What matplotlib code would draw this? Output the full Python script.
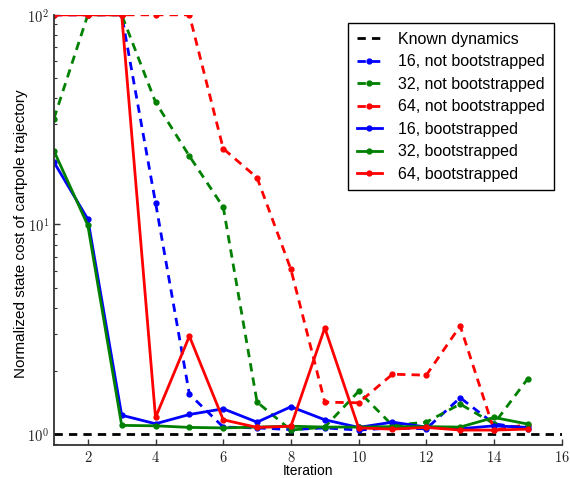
import math
import matplotlib
matplotlib.use("Agg")
import matplotlib.pyplot as plt
from matplotlib.ticker import FixedLocator, FuncFormatter, LogLocator, NullFormatter

plt.rcParams['font.family'] = ['Liberation Sans', 'DejaVu Sans']
plt.rcParams['mathtext.fontset'] = 'cm'

iterations = list(range(1, 16))
known = 1.0

nb16 = [100, 100, 100, 12.7, 1.55, 1.08, 1.07, 1.05, 1.07, 1.045, 1.07, 1.06, 1.49, 1.12, 1.06]
nb32 = [32.0, 100, 100, 38.3, 21.2, 12.1, 1.42, 1.045, 1.08, 1.60, 1.10, 1.14, 1.39, 1.12, 1.84]
nb64 = [100, 100, 100, 100, 100, 23.0, 16.7, 6.1, 1.42, 1.41, 1.93, 1.91, 3.28, 1.045, 1.11]
b16 = [19.8, 10.6, 1.23, 1.12, 1.24, 1.32, 1.14, 1.35, 1.17, 1.076, 1.14, 1.08, 1.06, 1.095, 1.076]
b32 = [22.4, 9.9, 1.10, 1.095, 1.076, 1.07, 1.08, 1.09, 1.08, 1.08, 1.085, 1.085, 1.08, 1.20, 1.116]
b64 = [100, 100, 100, 1.20, 2.93, 1.17, 1.076, 1.09, 3.21, 1.07, 1.056, 1.076, 1.045, 1.045, 1.056]

labels = ["Known dynamics", "16, not bootstrapped", "32, not bootstrapped",
          "64, not bootstrapped", "16, bootstrapped", "32, bootstrapped", "64, bootstrapped"]

fig = plt.figure(figsize=(5.70, 4.78), dpi=100)
ax = fig.add_axes([0.0947, 0.0697, 0.9855 - 0.0947, 0.969 - 0.0697])

dash = (0, (3, 2.2))
lw = 2
ms = 3.5
ax.plot([1, 16], [known, known], color='k', lw=lw, linestyle=dash, label=labels[0])
ax.plot(iterations, nb16, color='b', lw=lw, linestyle=dash, marker='o', ms=ms, label=labels[1])
ax.plot(iterations, nb32, color='g', lw=lw, linestyle=dash, marker='o', ms=ms, label=labels[2])
ax.plot(iterations, nb64, color='r', lw=lw, linestyle=dash, marker='o', ms=ms, label=labels[3])
ax.plot(iterations, b16, color='b', lw=lw, marker='o', ms=ms, label=labels[4])
ax.plot(iterations, b32, color='g', lw=lw, marker='o', ms=ms, label=labels[5])
ax.plot(iterations, b64, color='r', lw=lw, marker='o', ms=ms, label=labels[6])

ax.set_yscale('log')
ax.set_xlim(1, 16)
ax.set_ylim(0.89, 100)

ax.xaxis.set_major_locator(FixedLocator([2, 4, 6, 8, 10, 12, 14, 16]))
ax.xaxis.set_major_formatter(FuncFormatter(lambda v, p: r'$%d$' % v))
ax.yaxis.set_major_locator(FixedLocator([1, 10, 100]))
ax.yaxis.set_major_formatter(FuncFormatter(lambda v, p: r'$10^{%d}$' % round(math.log10(v))))
ax.yaxis.set_minor_locator(LogLocator(base=10, subs=range(2, 10)))
ax.yaxis.set_minor_formatter(NullFormatter())

ax.tick_params(axis='both', which='both', direction='in', labelsize=10.5, colors='#333333', labelcolor='#222222')
ax.tick_params(axis='both', which='major', length=4, width=1)
ax.tick_params(axis='y', which='minor', length=2.5, width=0.8)
ax.tick_params(axis='x', which='both', top=False)
ax.tick_params(axis='y', which='both', right=False)

for s in ['top', 'right']:
    ax.spines[s].set_visible(False)
for s in ['left', 'bottom']:
    ax.spines[s].set_color('#333333')
    ax.spines[s].set_linewidth(1.3)

ax.set_xlabel('Iteration', fontsize=10)
ax.xaxis.set_label_coords(0.5, -0.046)
ax.set_ylabel('Normalized state cost of cartpole trajectory', fontsize=11)
ax.yaxis.set_label_coords(-0.052, 0.49)

leg = ax.legend(loc='upper right', fontsize=11.5, fancybox=False, frameon=True,
                edgecolor='k', framealpha=1, labelspacing=0.47,
                handlelength=1.6, handletextpad=1.0, borderpad=0.55)
leg.get_frame().set_linewidth(1.0)

fig.savefig('out.png', dpi=100)
